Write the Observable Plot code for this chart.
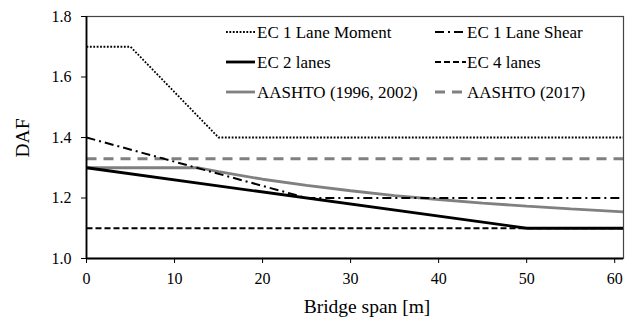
<!DOCTYPE html>
<html><head><meta charset="utf-8">
<script src="https://cdn.jsdelivr.net/npm/d3@7"></script>
<script src="https://cdn.jsdelivr.net/npm/@observablehq/plot@0.6"></script>
<style>body{margin:0;background:#fff}#chart{width:630px;height:320px}</style>
</head><body><div id="chart"></div>
<script>
// Data
const ec1MomentSpan = [0, 5, 15, 61];
const ec1MomentDaf  = [1.7, 1.7, 1.4, 1.4];
const ec1ShearSpan  = [0, 25, 61];
const ec1ShearDaf   = [1.4, 1.2, 1.2];
const ec2Span       = [0, 50, 61];
const ec2Daf        = [1.3, 1.1, 1.1];
const ec4Span       = [0, 61];
const ec4Daf        = [1.1, 1.1];
const aashto96Span  = [0, 12.7, 15, 20, 25, 30, 35, 40, 45, 50, 55, 61];
const aashto96Daf   = [1.3, 1.3, 1.287, 1.262, 1.242, 1.224, 1.208, 1.195, 1.183, 1.173, 1.164, 1.154];
const aashto17Span  = [0, 61];
const aashto17Daf   = [1.33, 1.33];
const seriesNames = ["EC 1 Lane Moment", "EC 1 Lane Shear", "EC 2 lanes", "EC 4 lanes", "AASHTO (1996, 2002)", "AASHTO (2017)"];
const xTicks = [0, 10, 20, 30, 40, 50, 60];
const yTicks = [1.0, 1.2, 1.4, 1.6, 1.8];
const xLabel = "Bridge span [m]";
const yLabel = "DAF";

const spans = [ec1MomentSpan, ec1ShearSpan, ec2Span, ec4Span, aashto96Span, aashto17Span];
const dafs  = [ec1MomentDaf, ec1ShearDaf, ec2Daf, ec4Daf, aashto96Daf, aashto17Daf];

// styles (separate from data)
const styles = [
  {stroke: "#000", strokeWidth: 1.8, dash: "1.8,1.6"},
  {stroke: "#000", strokeWidth: 2, dash: "9,4,2,4"},
  {stroke: "#000", strokeWidth: 2.8, dash: null},
  {stroke: "#000", strokeWidth: 1.8, dash: "6,3"},
  {stroke: "#808080", strokeWidth: 2.8, dash: null},
  {stroke: "#808080", strokeWidth: 3, dash: "10,7"}
];
const drawOrder = [5, 4, 3, 1, 0, 2];

const rows = [];
seriesNames.forEach((name, i) => spans[i].forEach((s, j) => rows.push({series: name, span: s, daf: dafs[i][j]})));

const lineMarks = drawOrder.map(i => Plot.line(rows.filter(r => r.series === seriesNames[i]), {
  x: "span", y: "daf", stroke: styles[i].stroke, strokeWidth: styles[i].strokeWidth,
  strokeDasharray: styles[i].dash || undefined, strokeLinecap: "butt", strokeLinejoin: "miter"
}));

const font = "'Liberation Serif', 'Times New Roman', serif";
const chart = Plot.plot({
  width: 630, height: 320,
  marginLeft: 86, marginRight: 7, marginTop: 16, marginBottom: 62,
  style: {fontFamily: font, fontSize: "16px", color: "#000", background: "#fff"},
  x: {domain: [0, 61], ticks: xTicks, label: null, tickSize: 5, tickPadding: 9},
  y: {domain: [1, 1.8], ticks: yTicks, tickFormat: d3.format(".1f"), label: null, tickSize: 5, tickPadding: 10},
  marks: [
    ...lineMarks,
    Plot.frame({stroke: "#444", strokeWidth: 1.2}),
    Plot.ruleX([0], {stroke: "#000", strokeWidth: 1.8}),
    Plot.ruleY([1], {stroke: "#000", strokeWidth: 1.8})
  ]
});
document.getElementById("chart").appendChild(chart);

const svg = d3.select(chart);
svg.selectAll("text").attr("font-family", font).attr("font-size", 16);
svg.append("text").attr("x", 367).attr("y", 313).attr("text-anchor", "middle")
  .attr("font-family", font).attr("font-size", 19.5).attr("fill", "#000").text(xLabel);
svg.append("text").attr("transform", "translate(29,138) rotate(-90)").attr("text-anchor", "middle")
  .attr("font-family", font).attr("font-size", 19.5).attr("fill", "#000").text(yLabel);

// legend: two columns, three rows
const legendPos = [[0, 0], [1, 0], [0, 1], [1, 1], [0, 2], [1, 2]];
const colX = [[226, 255, 257], [435, 466, 467]];
const rowY = [32, 62, 92];
const lg = svg.append("g").attr("text-anchor", "start");
seriesNames.forEach((name, i) => {
  const [c, r] = legendPos[i];
  const [x0, x1, tx] = colX[c];
  const y = rowY[r];
  lg.append("line").attr("x1", x0).attr("x2", x1).attr("y1", y).attr("y2", y)
    .attr("stroke", styles[i].stroke).attr("stroke-width", styles[i].strokeWidth)
    .attr("stroke-dasharray", styles[i].dash);
  lg.append("text").attr("x", tx).attr("y", y).attr("dy", "0.33em").attr("text-anchor", "start")
    .attr("font-family", font).attr("font-size", 17).attr("fill", "#000").text(name);
});
</script></body></html>
